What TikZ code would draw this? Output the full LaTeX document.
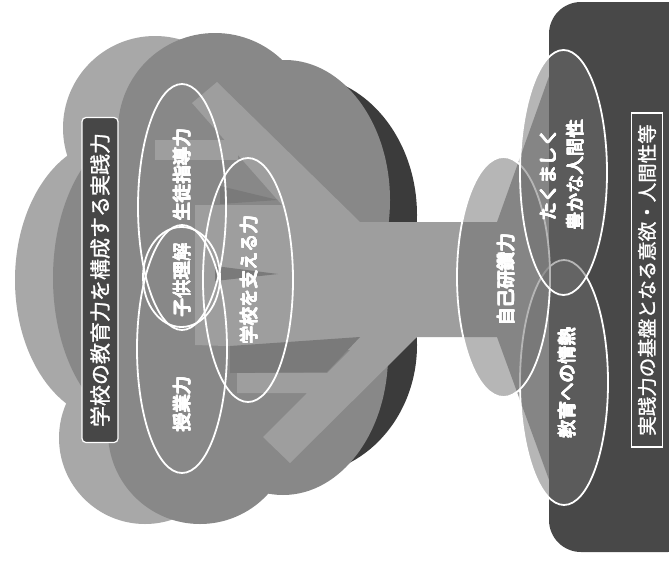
\documentclass[tikz,border=0pt]{standalone}
\usepackage{fontspec}
\setmainfont{Noto Sans CJK JP}
\newfontfamily\heavyjp[FakeBold=1.2]{Noto Sans CJK JP}
\usetikzlibrary{shapes.geometric}

\definecolor{cloudback}{HTML}{A8A8A8}
\definecolor{cloudfront}{HTML}{888888}
\definecolor{cloudshade}{HTML}{3B3B3B}
\definecolor{branchc}{HTML}{9E9E9E}
\definecolor{wedgec}{HTML}{7A7A7A}
\definecolor{groundc}{HTML}{484848}
\definecolor{boxfill}{HTML}{474747}
\definecolor{rootfill}{HTML}{6E6E6E}
\definecolor{haloc}{HTML}{2A2A2A}

% white lettering with a thin dark rim
\newsavebox\halobox
\newcommand\haloat[2]{\rlap{\kern#1\raisebox{#2}{\textcolor{haloc}{\usebox\halobox}}}}
\newcommand\halotext[1]{%
  \sbox\halobox{#1}%
  \leavevmode
  \haloat{0.45pt}{0pt}\haloat{-0.45pt}{0pt}\haloat{0pt}{0.45pt}\haloat{0pt}{-0.45pt}%
  \haloat{0.32pt}{0.32pt}\haloat{-0.32pt}{0.32pt}\haloat{0.32pt}{-0.32pt}\haloat{-0.32pt}{-0.32pt}%
  \usebox\halobox}

\begin{document}
\begin{tikzpicture}[x=1pt,y=-1pt,
  ring/.style={ellipse, draw=white, line width=1.8pt, inner sep=0pt},
  rootell/.style={ellipse, draw=white, line width=1.8pt, fill=rootfill,
    fill opacity=0.5, draw opacity=1, inner sep=0pt},
  lbl/.style={rotate=90, text=white, inner sep=0pt, align=center,
    font=\fontsize{18.5}{27}\selectfont},
  titlebox/.style={rotate=90, fill=boxfill, draw=white, line width=1.2pt,
    rounded corners=4pt, minimum width=325pt, minimum height=36pt,
    inner sep=0pt, text=white, font=\heavyjp\fontsize{21}{24}\selectfont},
  basebox/.style={rotate=90, draw=white, line width=1.5pt,
    minimum width=334pt, minimum height=31pt, inner sep=0pt,
    text=white, font=\heavyjp\fontsize{19.5}{22}\selectfont}]
\useasboundingbox (0,0) rectangle (669,562);
\fill[white] (0,0) rectangle (669,562);

% back layer of the crown
\fill[cloudback] (155,128) circle[radius=92pt];
\fill[cloudback] (112,280) ellipse[x radius=97pt, y radius=140pt];
\fill[cloudback] (145,438) circle[radius=86pt];
\fill[cloudback] (200,280) ellipse[x radius=120pt, y radius=200pt];

% dark rim on the right of the crown
\fill[cloudshade] (300,215) ellipse[x radius=117pt, y radius=140pt];
\fill[cloudshade] (300,345) ellipse[x radius=117pt, y radius=130pt];
\fill[cloudshade] (300,215) rectangle (417,345);

% front layer of the crown
\fill[cloudfront] (215,130) circle[radius=97pt];
\fill[cloudfront] (285,200) ellipse[x radius=105pt, y radius=140pt];
\fill[cloudfront] (283,355) ellipse[x radius=105pt, y radius=140pt];
\fill[cloudfront] (200,432) circle[radius=92pt];
\fill[cloudfront] (145,278) ellipse[x radius=92pt, y radius=150pt];
\fill[cloudfront] (260,280) ellipse[x radius=130pt, y radius=180pt];

% trunk and branches
\fill[branchc] (217,82) -- (360,222) -- (497,222) -- (497,337) -- (417,337)
  -- (290,463) -- (263,437) -- (307,393) -- (237,393) -- (237,373)
  -- (327,373) -- (350,350) -- (195,345) -- (195,205) -- (282,205)
  -- (192,103) -- cycle;
\fill[branchc] (155,140) rectangle (238,160);
% roots spreading into the ground
\fill[branchc] (497,222) -- (552,68) -- (552,488) -- (497,337) -- cycle;

% shaded notches between the branches
\fill[wedgec] (220,186) -- (278,200) -- (220,204) -- cycle;
\fill[wedgec] (215,266) -- (278,274) -- (215,281) -- cycle;
\fill[wedgec] (230,346) -- (360,337) -- (327,372) -- (230,373) -- cycle;

% ground
\fill[groundc, rounded corners=32pt] (549,2) rectangle (700,552);

% root ellipses
\node[rootell, minimum width=88pt, minimum height=245pt] (jonetsu) at (564,382.5) {};
\node[rootell, minimum width=93pt, minimum height=240pt] (kenshu) at (503.5,277) {};
\node[rootell, minimum width=87pt, minimum height=245pt] (takumashii) at (563.5,172.5) {};

% crown ellipses
\node[ring, minimum width=88pt, minimum height=246pt] (shido) at (182,207) {};
\node[ring, minimum width=90pt, minimum height=248pt] (jugyo) at (182,349) {};
\node[ring, minimum width=77pt, minimum height=100pt] (kodomo) at (181.5,277) {};
\node[ring, minimum width=90pt, minimum height=244pt] (sasaeru) at (248,280) {};

% labels
\node[lbl] (shidoT) at (182,175) {\halotext{生徒指導力}};
\node[lbl] (kodomoT) at (182,280) {\halotext{子供理解}};
\node[lbl] (jugyoT) at (182,404) {\halotext{授業力}};
\node[lbl] (sasaeruT) at (249,280) {\halotext{学校を支える力}};
\node[lbl] (kenshuT) at (506,280) {\halotext{自己研鑽力}};
\node[lbl] (jonetsuT) at (567,383) {\halotext{教育への情熱}};
\node[lbl] (takumashiiT) at (563.5,175)
  {\halotext{\begin{tabular}{@{}c@{}}たくましく\\豊かな人間性\end{tabular}}};

\node[titlebox] (title) at (100,280) {学校の教育力を構成する実践力};
\node[basebox] (base) at (647,280) {実践力の基盤となる意欲・人間性等};
\end{tikzpicture}
\end{document}
